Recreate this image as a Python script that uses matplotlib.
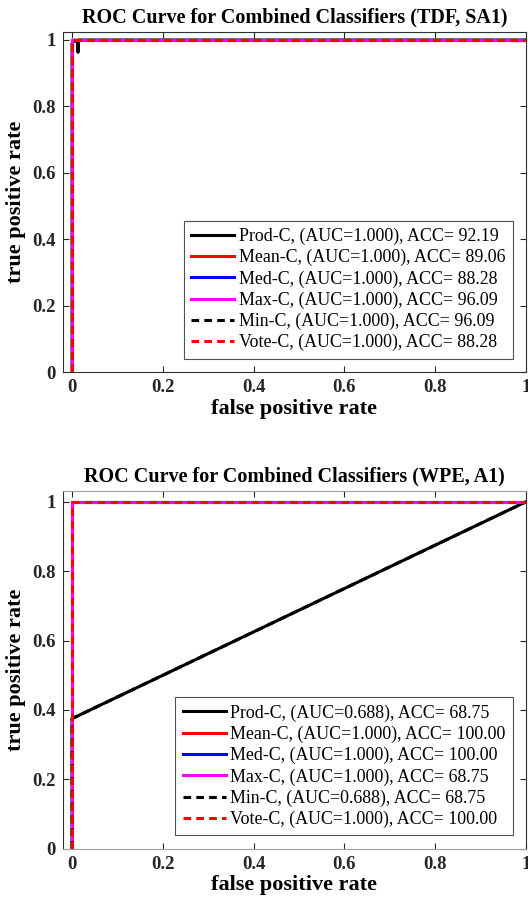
import numpy as np
import matplotlib.pyplot as plt
from matplotlib.ticker import FuncFormatter

plt.rcParams['font.family'] = ['Liberation Serif', 'DejaVu Serif']

# classifier names and line styles
names = ['Prod-C', 'Mean-C', 'Med-C', 'Max-C', 'Min-C', 'Vote-C']
colors = ['black', 'red', 'blue', 'magenta', 'black', 'red']
styles = ['-', '-', '-', '-', '--', '--']

# top plot (TDF, SA1)
auc_top = [1.000, 1.000, 1.000, 1.000, 1.000, 1.000]
acc_top = [92.19, 89.06, 88.28, 96.09, 96.09, 88.28]
perfect_fpr = [0, 0, 1]
perfect_tpr = [0, 1, 1]
prod_top_fpr = [0, 0, 0.006, 0.013, 0.013, 0.013, 1]
prod_top_tpr = [0, 0.99, 1.0, 0.99, 0.964, 1.0, 1]
curves_top = [(prod_top_fpr, prod_top_tpr)] + [(perfect_fpr, perfect_tpr)] * 5

# bottom plot (WPE, A1)
auc_bot = [0.688, 1.000, 1.000, 1.000, 0.688, 1.000]
acc_bot = [68.75, 100.00, 100.00, 68.75, 68.75, 100.00]
weak_fpr = [0, 0, 1]
weak_tpr = [0, 0.375, 1]
curves_bot = [(weak_fpr, weak_tpr), (perfect_fpr, perfect_tpr), (perfect_fpr, perfect_tpr),
              (perfect_fpr, perfect_tpr), (weak_fpr, weak_tpr), (perfect_fpr, perfect_tpr)]

fig = plt.figure(figsize=(5.28, 9.08), dpi=100)
ax1 = fig.add_axes([0.1193, 0.5903, 0.8769, 0.3748])
ax2 = fig.add_axes([0.1193, 0.0653, 0.8769, 0.3943])


def draw(ax, curves, auc, acc, title, ymax, spine_col):
    for (x, y), n, c, s, a, r in zip(curves, names, colors, styles, auc, acc):
        ln, = ax.plot(x, y, color=c, linestyle=s, linewidth=2.2,
                      label='%s, (AUC=%.3f), ACC= %.2f' % (n, a, r))
        if s == '--':
            ln.set_dashes((2.5, 1.7))
    ax.set_xlim(-0.02, 1)
    ax.set_ylim(0, ymax)
    ax.set_xticks([0, 0.2, 0.4, 0.6, 0.8, 1])
    ax.set_yticks([0, 0.2, 0.4, 0.6, 0.8, 1])
    fmt = FuncFormatter(lambda v, p: '%g' % v)
    ax.xaxis.set_major_formatter(fmt)
    ax.yaxis.set_major_formatter(fmt)
    ax.tick_params(direction='in', top=True, right=True, length=4,
                   labelsize=13.5, width=0.8, colors='#262626', pad=5)
    for lab in ax.get_xticklabels() + ax.get_yticklabels():
        lab.set_fontweight('bold')
    for sp in ax.spines.values():
        sp.set_color('#303030')
        sp.set_linewidth(0.8)
    ax.spines['top'].set_color(spine_col)
    ax.spines['bottom'].set_color(spine_col)
    ax.set_xlabel('false positive rate', fontsize=16, fontweight='bold', labelpad=2)
    ax.set_ylabel('true positive rate', fontsize=16, fontweight='bold', labelpad=5)
    ax.set_title(title, fontsize=14.5, fontweight='bold', pad=6.5)
    leg = ax.legend(loc='lower right', fontsize=12.9, handlelength=2.4,
                    fancybox=False, framealpha=1, edgecolor='#505050',
                    borderpad=0.4, labelspacing=0.22, handletextpad=0.25,
                    borderaxespad=0.75)
    leg.get_frame().set_linewidth(0.8)


draw(ax1, curves_top, auc_top, acc_top, 'ROC Curve for Combined Classifiers (TDF, SA1)', 1.025, '#303030')
draw(ax2, curves_bot, auc_bot, acc_bot, 'ROC Curve for Combined Classifiers (WPE, A1)', 1.032, '#a0a0a0')

plt.savefig('out.png', dpi=100)
